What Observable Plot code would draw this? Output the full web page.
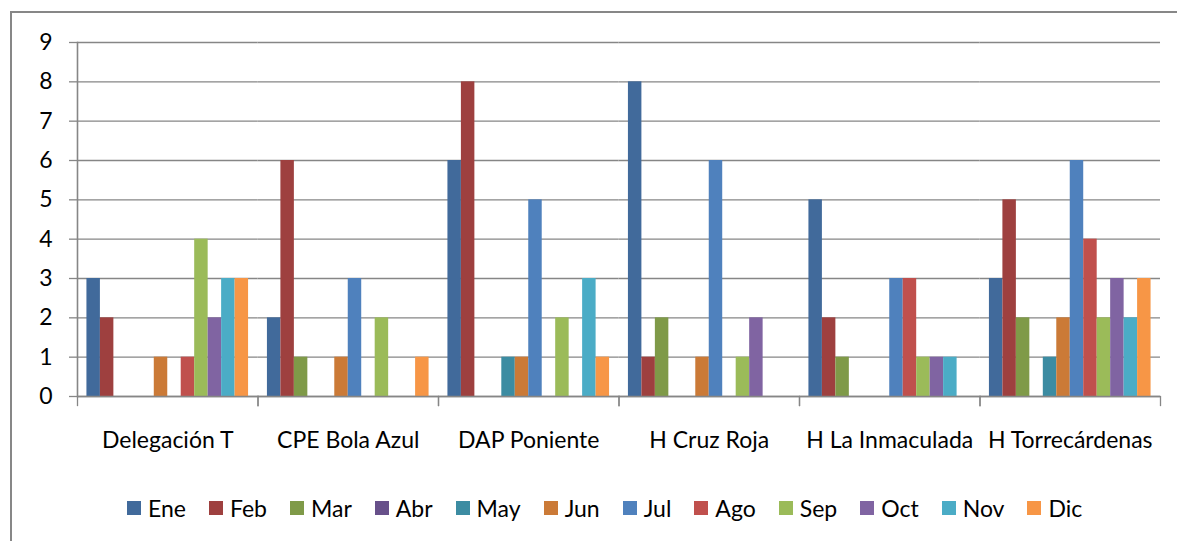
<!DOCTYPE html>
<html>
<head>
<meta charset="utf-8">
<script src="https://cdn.jsdelivr.net/npm/d3@7"></script>
<script src="https://cdn.jsdelivr.net/npm/@observablehq/plot@0.6"></script>
<style>
  body { margin: 0; background: #fff; font-family: Lato, "Open Sans", sans-serif; }
  #wrap { position: relative; width: 1177px; height: 541px; overflow: hidden; background: #fff; }
  #border { position: absolute; left: 10px; top: 11px; width: 1300px; height: 700px; border: 2.5px solid #878787; box-sizing: border-box; z-index: 5; pointer-events: none; }
  #chart { position: absolute; left: 0; top: 0; }
  #legend { position: absolute; left: 127px; top: 494px; display: flex; align-items: center; font-size: 23px; color: #000; }
  .item { display: flex; align-items: center; margin-right: 23px; }
  .sw { width: 14px; height: 14px; margin-right: 7px; display: inline-block; }
</style>
</head>
<body>
<div id="wrap">
  <div id="chart"></div>
  <div id="legend"></div>
  <div id="border"></div>
</div>
<script>
const sites = ["Delegación T", "CPE Bola Azul", "DAP Poniente", "H Cruz Roja", "H La Inmaculada", "H Torrecárdenas"];
const months = ["Ene", "Feb", "Mar", "Abr", "May", "Jun", "Jul", "Ago", "Sep", "Oct", "Nov", "Dic"];
const colors = ["#416A9B", "#9E403F", "#7F9A48", "#67508A", "#3C8CA2", "#CB7A37", "#4F81BD", "#C0504D", "#9BBB59", "#8064A2", "#4BACC6", "#F79646"];
const yTicks = [0, 1, 2, 3, 4, 5, 6, 7, 8, 9];

const delegacionT    = [3, 2, 0, 0, 0, 1, 0, 1, 4, 2, 3, 3];
const cpeBolaAzul    = [2, 6, 1, 0, 0, 1, 3, 0, 2, 0, 0, 1];
const dapPoniente    = [6, 8, 0, 0, 1, 1, 5, 0, 2, 0, 3, 1];
const hCruzRoja      = [8, 1, 2, 0, 0, 1, 6, 0, 1, 2, 0, 0];
const hLaInmaculada  = [5, 2, 1, 0, 0, 0, 3, 3, 1, 1, 1, 0];
const hTorrecardenas = [3, 5, 2, 0, 1, 2, 6, 4, 2, 3, 2, 3];
const seriesBySite = [delegacionT, cpeBolaAzul, dapPoniente, hCruzRoja, hLaInmaculada, hTorrecardenas];

const data = [];
sites.forEach((s, i) => months.forEach((m, j) => {
  const v = seriesBySite[i][j];
  if (v > 0) data.push({site: s, month: m, value: v});
}));

const grid = "#868686";

const plot = Plot.plot({
  width: 1177,
  height: 456,
  marginTop: 42,
  marginLeft: 77,
  marginRight: 17,
  marginBottom: 60,
  style: { fontFamily: "Lato, 'Open Sans', sans-serif", fontSize: "23px", color: "#000", background: "transparent" },
  fx: { domain: sites, padding: 0, label: null, round: false },
  x: { domain: months, paddingInner: 0, paddingOuter: 0.7, axis: null, round: false },
  y: { domain: [0, 9], label: null },
  color: { domain: months, range: colors },
  marks: [
    Plot.gridY(yTicks, { stroke: grid, strokeOpacity: 1, strokeWidth: 1.3 }),
    Plot.barY(data, { fx: "site", x: "month", y: "value", fill: "month", inset: 0 }),
    Plot.ruleY([0], { stroke: grid, strokeWidth: 1.3 }),
    Plot.frame({ anchor: "left", facetAnchor: "left", stroke: grid, strokeWidth: 1.6 }),
    Plot.frame({ anchor: "left", stroke: grid, strokeWidth: 1.3, insetTop: 354, insetBottom: -9 }),
    Plot.frame({ anchor: "right", stroke: grid, strokeWidth: 1.3, insetTop: 354, insetBottom: -9 }),
    Plot.axisY(yTicks, { tickSize: 8, tickPadding: 17, stroke: grid, strokeWidth: 1.3, tickFormat: d => d, label: null, fill: "#000" }),
    Plot.axisFx({ anchor: "bottom", tickSize: 0, tickPadding: 35, label: null, fill: "#000" })
  ]
});
document.getElementById("chart").appendChild(plot);

const legend = document.getElementById("legend");
months.forEach((m, i) => {
  const it = document.createElement("div");
  it.className = "item";
  const sw = document.createElement("span");
  sw.className = "sw";
  sw.style.background = colors[i];
  const t = document.createElement("span");
  t.textContent = m;
  it.appendChild(sw);
  it.appendChild(t);
  legend.appendChild(it);
});
</script>
</body>
</html>
